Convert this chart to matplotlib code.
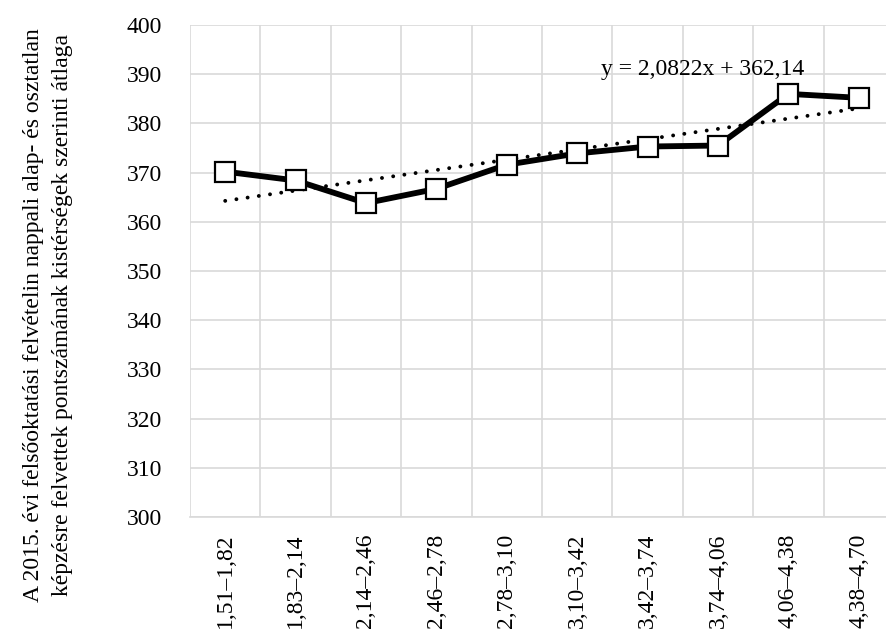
import numpy as np
import matplotlib
matplotlib.use("Agg")
import matplotlib.pyplot as plt

# adatok
categories = ["1,51–1,82", "1,83–2,14", "2,14–2,46", "2,46–2,78", "2,78–3,10",
              "3,10–3,42", "3,42–3,74", "3,74–4,06", "4,06–4,38", "4,38–4,70"]
values = [370.2, 368.4, 363.8, 366.7, 371.6, 373.9, 375.3, 375.5, 386.0, 385.2]
trend_label = "y = 2,0822x + 362,14"
ylabel = ("A 2015. évi felsőoktatási felvételin nappali alap- és osztatlan\n"
          "képzésre felvettek pontszámának kistérségek szerinti átlaga")

plt.rcParams['font.family'] = ['Liberation Serif', 'DejaVu Serif']

fig = plt.figure(figsize=(8.87, 6.34), dpi=100)
ax = fig.add_axes([190 / 887, 117 / 634, 704 / 887, 492 / 634])

x = np.arange(len(values))
ax.plot(x, values, color='black', lw=4.2, marker='s', ms=14,
        mfc='white', mec='black', mew=1.6, zorder=3, solid_joinstyle='miter')

# lineáris trend
k, b = np.polyfit(x + 1, values, 1)
ax.plot(x, k * (x + 1) + b, color='black', lw=2.8,
        linestyle=(0, (0.01, 2.9)), dash_capstyle='round', zorder=2)
ax.text(6.78, 391.0, trend_label, ha='center', va='center', fontsize=17)

ax.set_xlim(-0.5, 9.5)
ax.set_ylim(300, 400)
ax.set_yticks(np.arange(300, 401, 10))
ax.set_xticks(x)
ax.set_xticks(np.arange(-0.5, 10, 1), minor=True)
ax.set_xticklabels(categories, rotation=90, fontsize=17)
ax.tick_params(axis='y', labelsize=17, length=0, pad=20)
ax.tick_params(axis='x', which='both', length=0, pad=12)

ax.grid(True, axis='y', color='#d9d9d9', lw=1.2)
ax.grid(True, axis='x', which='minor', color='#d9d9d9', lw=1.2)
ax.set_axisbelow(True)
for s in ax.spines.values():
    s.set_visible(False)
ax.spines['bottom'].set_visible(True)
ax.spines['bottom'].set_color('#d9d9d9')
ax.spines['bottom'].set_linewidth(1.2)

fig.text(48 / 887, 1 - 315 / 634, ylabel, rotation=90, ha='center', va='center',
         fontsize=17, linespacing=1.45, multialignment='center')

fig.savefig("out.png", dpi=100)
